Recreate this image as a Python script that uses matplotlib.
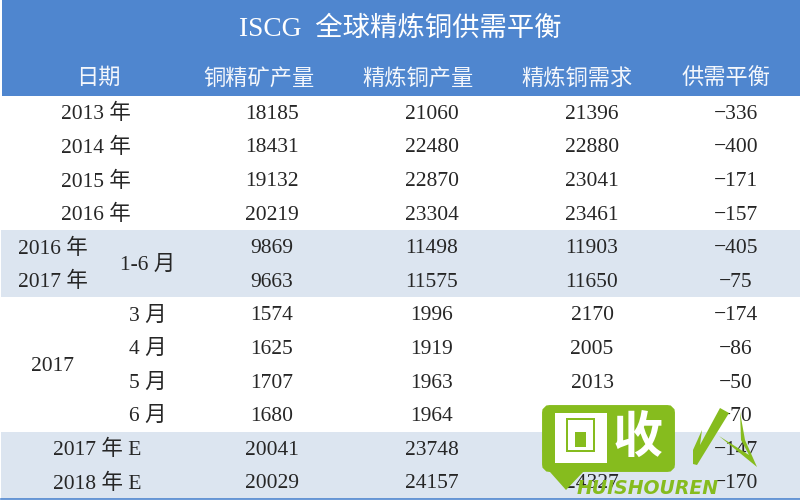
import matplotlib
matplotlib.use("Agg")
import matplotlib.pyplot as plt
from matplotlib.patches import FancyBboxPatch, Polygon, Rectangle

title = "ISCG  全球精炼铜供需平衡"
headers = ["日期", "铜精矿产量", "精炼铜产量", "精炼铜需求", "供需平衡"]
concentrate = [18185, 18431, 19132, 20219, 9869, 9663, 1574, 1625, 1707, 1680, 20041, 20029]
refined = [21060, 22480, 22870, 23304, 11498, 11575, 1996, 1919, 1963, 1964, 23748, 24157]
demand = [21396, 22880, 23041, 23461, 11903, 11650, 2170, 2005, 2013, 2034, 23895, 24327]
balance = [-336, -400, -171, -157, -405, -75, -174, -86, -50, -70, -147, -170]
year_labels = ["2013 年", "2014 年", "2015 年", "2016 年"]
half_labels = ["2016 年", "2017 年"]
half_span = "1-6 月"
month_year = "2017"
month_labels = ["3 月", "4 月", "5 月", "6 月"]
est_labels = ["2017 年 E", "2018 年 E"]

FONT = ["Liberation Serif", "Noto Sans CJK SC"]
HEAD = "#4f86cf"
BAND = "#dce5f0"
INK = "#262626"
GREEN = "#86bc1e"

fig = plt.figure(figsize=(8, 5), dpi=100)
ax = fig.add_axes([0, 0, 1, 1])
ax.set_xlim(0, 800)
ax.set_ylim(500, 0)
ax.axis("off")

row_top, row_h = 95.5, 33.6
def cy(i):
    return row_top + row_h * (i + 0.5)

ax.add_patch(Rectangle((2, 0), 798, row_top, color=HEAD, lw=0))
ax.add_patch(Rectangle((1, row_top + 4 * row_h), 799, 2 * row_h, color=BAND, lw=0))
ax.add_patch(Rectangle((1, row_top + 10 * row_h), 799, 2 * row_h, color=BAND, lw=0))
ax.plot([1, 800], [row_top + 12 * row_h + 0.5] * 2, color=HEAD, lw=1.2)

def txt(x, y, s, size=15.5, color=INK, ha="center", dy=2):
    ax.text(x, y + dy, s, fontsize=size, color=color, ha=ha, va="center", family=FONT)

txt(400, 28, title, size=19.7, color="white", dy=1)
for x, h in zip([98, 259, 418, 577, 726], headers):
    txt(x, 79, h, size=16, color="#f4f7fc", dy=0)

for i, s in enumerate(year_labels):
    txt(96, cy(i), s)
for i, s in enumerate(half_labels):
    txt(53, cy(4 + i), s)
txt(148, row_top + 5 * row_h, half_span)
txt(53, row_top + 8 * row_h, month_year)
for i, s in enumerate(month_labels):
    txt(148, cy(6 + i), s)
for i, s in enumerate(est_labels):
    txt(97, cy(10 + i), s)

for col, x in ((concentrate, 272), (refined, 432), (demand, 592)):
    for i, v in enumerate(col):
        txt(x, cy(i), str(v))
for i, v in enumerate(balance):
    txt(736, cy(i), "\u2212" + str(-v))

# watermark logo
ax.add_patch(FancyBboxPatch((549, 412), 119, 53, boxstyle="round,pad=0,rounding_size=1",
                            fc=GREEN, ec=GREEN, lw=10, zorder=5))
ax.add_patch(Polygon([[542, 450], [585, 470], [566, 490], [550, 472]], fc=GREEN, lw=0, zorder=5))
ax.add_patch(Rectangle((555, 413), 52, 50, fc="white", lw=0, zorder=6))
ax.add_patch(Rectangle((566, 418), 29, 34, fc=GREEN, lw=0, zorder=7))
ax.add_patch(Rectangle((568, 420), 25, 30, fc="white", lw=0, zorder=8))
ax.add_patch(Rectangle((575, 432), 11, 15, fc=GREEN, lw=0, zorder=9))
ax.text(638, 438, "收", fontsize=36, fontweight="bold", color="white", ha="center", va="center",
        family="Noto Sans CJK SC", zorder=7)
ax.add_patch(Polygon([[720, 408], [729, 413], [697, 465], [693, 464], [693, 450], [702, 430], [700, 445]],
                     fc=GREEN, lw=0, zorder=6))
ax.add_patch(Polygon([[719, 436], [757, 467], [745, 440], [740, 412], [741, 440], [749, 455]],
                     fc=GREEN, lw=0, zorder=6))
ax.text(577, 488, "HUISHOUREN", fontsize=13.6, fontweight="bold", style="italic", color=GREEN,
        ha="left", va="center", family="DejaVu Sans", zorder=10)

fig.savefig("out.png", dpi=100)
